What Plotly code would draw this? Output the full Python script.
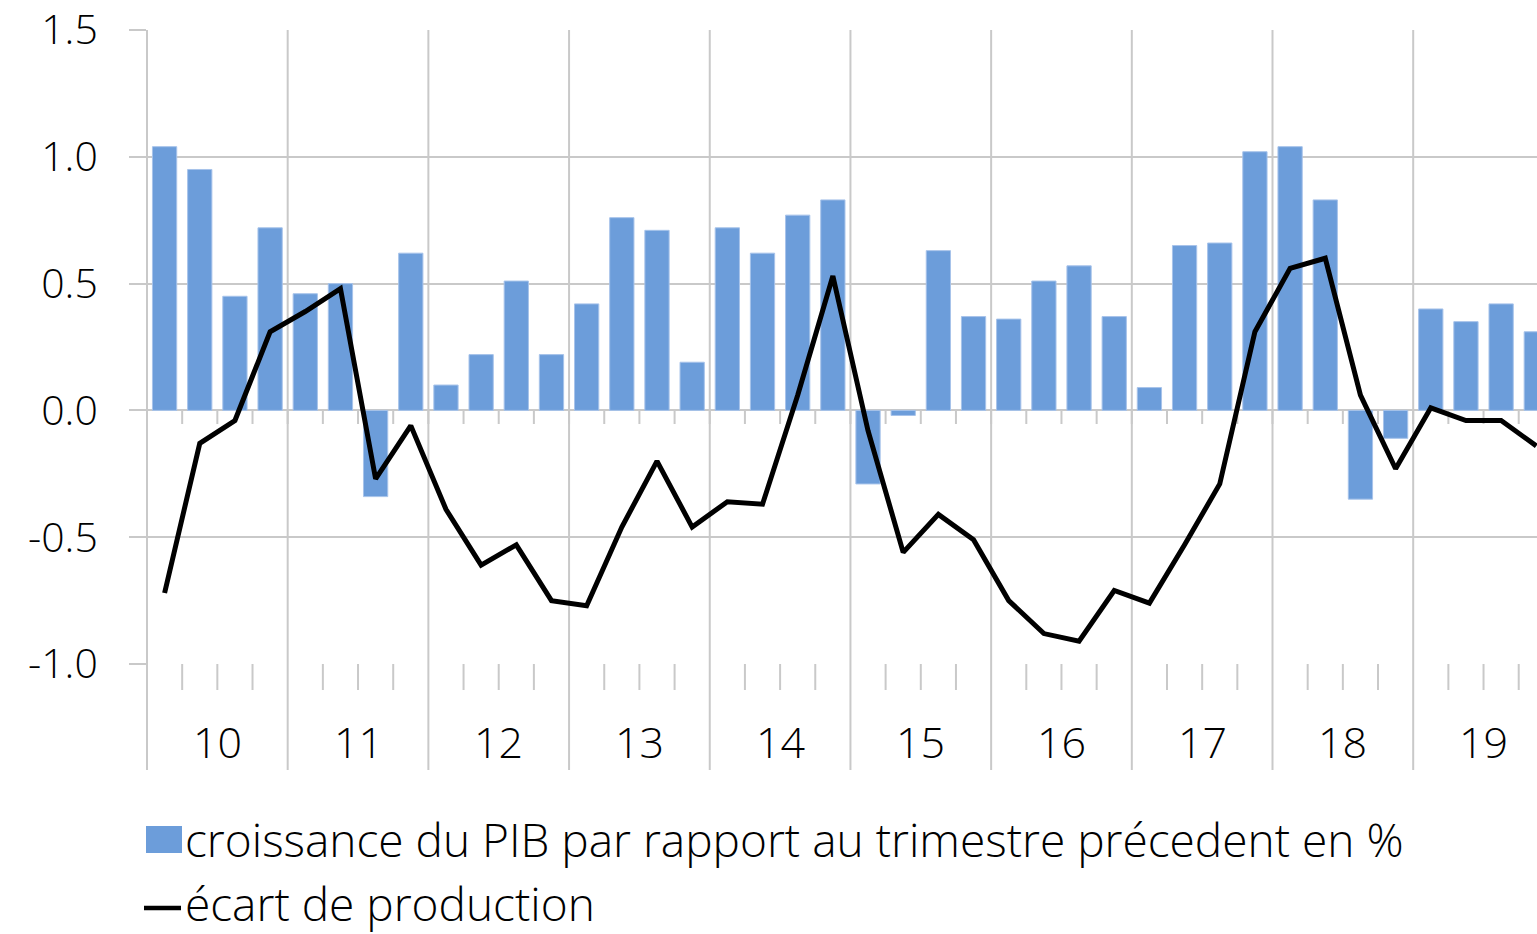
import plotly.graph_objects as go

# ---------------- data ----------------
years = ["10", "11", "12", "13", "14", "15", "16", "17", "18", "19"]
quarters_per_year = 4
gdp_growth = [1.04, 0.95, 0.45, 0.72,
              0.46, 0.50, -0.34, 0.62,
              0.10, 0.22, 0.51, 0.22,
              0.42, 0.76, 0.71, 0.19,
              0.72, 0.62, 0.77, 0.83,
              -0.29, -0.02, 0.63, 0.37,
              0.36, 0.51, 0.57, 0.37,
              0.09, 0.65, 0.66, 1.02,
              1.04, 0.83, -0.35, -0.11,
              0.40, 0.35, 0.42, 0.31]
output_gap = [-0.72, -0.13, -0.04, 0.31,
              0.39, 0.48, -0.27, -0.06,
              -0.39, -0.61, -0.53, -0.75,
              -0.77, -0.46, -0.20, -0.46,
              -0.36, -0.37, 0.06, 0.53,
              -0.08, -0.56, -0.41, -0.51,
              -0.75, -0.88, -0.91, -0.71,
              -0.76, -0.53, -0.29, 0.31,
              0.56, 0.60, 0.06, -0.23,
              0.01, -0.04, -0.04, -0.14]
y_ticks = [-1.0, -0.5, 0.0, 0.5, 1.0, 1.5]
y_ticktext = ["-1.0", "-0.5", "0.0", "0.5", "1.0", "1.5"]
name_bar = "croissance du PIB par rapport au trimestre précedent en %"
name_line = "écart de production"

# ---------------- layout constants ----------------
OFF = 0  # body margin removed by the post script below
PAGE_W, PAGE_H = 1537, 934
W, H = PAGE_W - OFF, PAGE_H - OFF
L, R, T, B = 147 - OFF, 0, 30 - OFF, PAGE_H - 664
plot_w = W - L - R
plot_h = H - T - B
X_RANGE = [-0.5, 39.02]
Y_RANGE = [-1.0, 1.5]
FONT = "Open Sans"
GRID = "#c9c9c9"
BAR_COLOR = "#6c9dda"

def px_x(px):
    # page pixel -> paper coordinate
    return (px - OFF - L) / plot_w

def px_y(py):
    return (OFF + T + plot_h - py) / plot_h

def data_x_to_paper(v):
    return (v - X_RANGE[0]) / (X_RANGE[1] - X_RANGE[0])

x_idx = list(range(len(gdp_growth)))

fig = go.Figure()
fig.add_trace(go.Bar(
    x=x_idx, y=gdp_growth, name=name_bar, width=0.69,
    marker=dict(color=BAR_COLOR, line=dict(color="#a7c3ea", width=1)),
    showlegend=False,
))
fig.add_trace(go.Scatter(
    x=x_idx, y=output_gap, name=name_line, mode="lines",
    line=dict(color="black", width=5),
    showlegend=False,
))

shapes = []
n = len(gdp_growth)
# year boundary lines (extend below the plot area)
for k in range(0, n, quarters_per_year):
    b = k - 0.5
    if b < X_RANGE[0] - 1e-9 or b > X_RANGE[1]:
        continue
    xp = data_x_to_paper(b)
    shapes.append(dict(type="line", xref="paper", yref="paper",
                       x0=xp, x1=xp, y0=1, y1=px_y(770),
                       line=dict(color=GRID, width=2), layer="below"))
# quarter ticks at bottom axis and at zero line
for k in range(n):
    b = k + 0.5
    if b > X_RANGE[1]:
        continue
    xp = data_x_to_paper(b)
    if (k + 1) % quarters_per_year != 0:
        shapes.append(dict(type="line", xref="paper", yref="paper",
                           x0=xp, x1=xp, y0=0, y1=px_y(690),
                           line=dict(color=GRID, width=2), layer="below"))
    shapes.append(dict(type="line", xref="paper", yref="paper",
                       x0=xp, x1=xp, y0=px_y(410), y1=px_y(424),
                       line=dict(color=GRID, width=2), layer="below"))

# legend symbols
shapes.append(dict(type="rect", xref="paper", yref="paper",
                   x0=px_x(146), x1=px_x(182), y0=px_y(853), y1=px_y(826),
                   fillcolor=BAR_COLOR, line=dict(width=0)))
shapes.append(dict(type="line", xref="paper", yref="paper",
                   x0=px_x(144), x1=px_x(181), y0=px_y(908), y1=px_y(908),
                   line=dict(color="black", width=4.5)))

annotations = []
for i, yl in enumerate(years):
    annotations.append(dict(
        x=i * quarters_per_year + 1.5, xref="x", y=px_y(742), yref="paper",
        text=yl, showarrow=False, xanchor="center", yanchor="middle",
        font=dict(family=FONT, size=43, color="black", weight=300)))
annotations.append(dict(
    x=px_x(184), xref="paper", y=px_y(839), yref="paper", text=name_bar,
    showarrow=False, xanchor="left", yanchor="middle", borderpad=0,
    font=dict(family=FONT, size=46, color="black", weight=300)))
annotations.append(dict(
    x=px_x(184), xref="paper", y=px_y(903), yref="paper", text=name_line,
    showarrow=False, xanchor="left", yanchor="middle", borderpad=0,
    font=dict(family=FONT, size=46, color="black", weight=300)))

fig.update_layout(
    width=W, height=H,
    margin=dict(l=L, r=R, t=T, b=B, pad=0, autoexpand=False),
    paper_bgcolor="white", plot_bgcolor="white",
    font=dict(family=FONT, size=42, color="black"),
    shapes=shapes, annotations=annotations,
    showlegend=False,
)
fig.update_xaxes(
    range=X_RANGE, showgrid=False, zeroline=False, showticklabels=False,
    ticks="", showline=False, automargin=False,
)
fig.update_yaxes(
    range=Y_RANGE, tickvals=y_ticks, ticktext=y_ticktext,
    showgrid=True, gridcolor=GRID, gridwidth=2,
    zeroline=True, zerolinecolor=GRID, zerolinewidth=2,
    ticks="outside", ticklen=17, tickcolor=GRID, tickwidth=2,
    ticklabelstandoff=23, ticklabeloverflow="allow", showline=False,
    automargin=False,
    tickfont=dict(family=FONT, size=41, color="black", weight=300),
)

fig.write_html("out.html",
               config={"displayModeBar": False},
               post_script="document.body.style.margin='0px';")
